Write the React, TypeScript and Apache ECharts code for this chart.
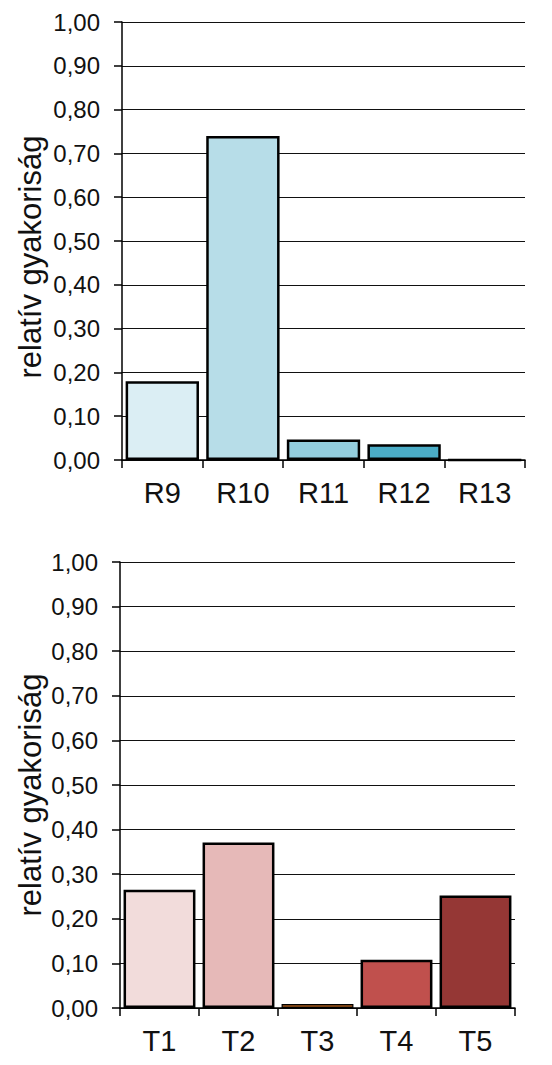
import React, { useEffect, useRef } from 'react'
import * as echarts from 'echarts'

const topCategories = ['R9', 'R10', 'R11', 'R12', 'R13']
const topValues = [0.18, 0.74, 0.047, 0.036, 0]
const topColors = ['#dbeef4', '#b7dde8', '#93cddd', '#4bacc6', '#31859c']

const bottomCategories = ['T1', 'T2', 'T3', 'T4', 'T5']
const bottomValues = [0.265, 0.371, 0.009, 0.108, 0.252]
const bottomColors = ['#f2dcdb', '#e6b9b8', '#a0561a', '#c0504d', '#953735']

const axisName = 'relatív gyakoriság'
const font = 'Liberation Sans, Arial, sans-serif'

const fmt = (v: number) => v.toFixed(2).replace('.', ',')

const App: React.FC = () => {
    const chartRef = useRef<HTMLDivElement | null>(null)

    useEffect(() => {
        if (!chartRef.current) return
        const chart = echarts.init(chartRef.current, undefined, { renderer: 'svg' })

        const xAxisFor = (cats: string[], gridIndex: number) => ({
            type: 'category',
            gridIndex,
            data: cats,
            axisLine: { lineStyle: { color: '#000', width: 1.5 } },
            axisTick: { show: true, length: 8, lineStyle: { color: '#000', width: 1.5 } },
            axisLabel: { color: '#111', fontSize: 29, fontFamily: font, margin: 18 },
        })

        const yAxisFor = (gridIndex: number) => ({
            type: 'value',
            gridIndex,
            min: 0,
            max: 1,
            interval: 0.1,
            axisLine: { show: true, lineStyle: { color: '#000', width: 1.5 } },
            axisTick: { show: true, length: 8, lineStyle: { color: '#000', width: 1.5 } },
            axisLabel: { color: '#111', fontSize: 24, fontFamily: font, margin: 22, formatter: fmt },
            splitLine: { show: true, lineStyle: { color: '#111', width: 1.2 } },
        })

        // thin bars get a thinner outline so the fill stays visible
        const seriesFor = (vals: number[], colors: string[], idx: number) => ({
            type: 'bar',
            xAxisIndex: idx,
            yAxisIndex: idx,
            barCategoryGap: '9%',
            data: vals.map((v, i) => ({
                value: v,
                itemStyle: {
                    color: colors[i],
                    borderColor: '#000',
                    borderWidth: v > 0 && v < 0.02 ? 1.2 : 2.5,
                },
            })),
        })

        const nameText = (y: number) => ({
            type: 'text',
            x: 30,
            y,
            rotation: Math.PI / 2,
            style: {
                text: axisName,
                fontSize: 31,
                fontFamily: font,
                fill: '#111',
                align: 'center',
                verticalAlign: 'middle',
            },
        })

        chart.setOption({
            animation: false,
            backgroundColor: '#fff',
            grid: [
                { left: 122, top: 22, width: 403, height: 438 },
                { left: 120, top: 562, width: 395, height: 446 },
            ],
            xAxis: [xAxisFor(topCategories, 0), xAxisFor(bottomCategories, 1)],
            yAxis: [yAxisFor(0), yAxisFor(1)],
            series: [seriesFor(topValues, topColors, 0), seriesFor(bottomValues, bottomColors, 1)],
            graphic: [nameText(257), nameText(795)],
        })

        return () => {
            chart.dispose()
        }
    }, [])

    return (
        <div
            ref={chartRef}
            style={{ position: 'absolute', left: 0, top: 0, width: '552px', height: '1065px' }}
        />
    )
}

export default App
